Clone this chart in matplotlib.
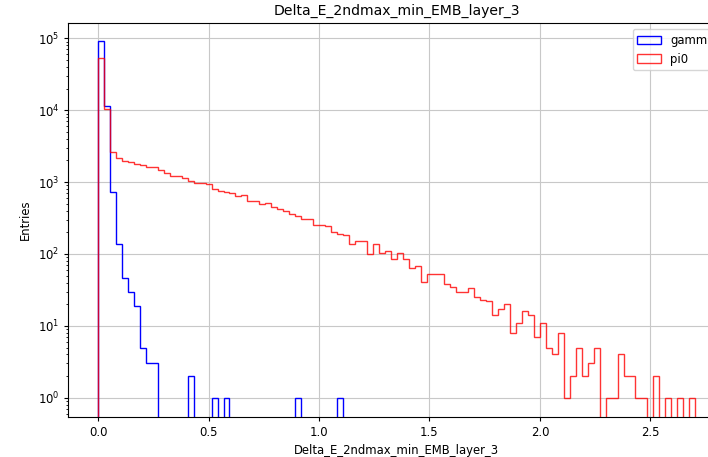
import matplotlib
matplotlib.use("Agg")
import matplotlib.pyplot as plt
import numpy as np

VAR_NAME = "Delta_E_2ndmax_min_EMB_layer_3"
X_MAX = 2.703
N_BINS = 100

# entries per bin (100 equal bins from 0 to X_MAX)
gamma_counts = [0] * N_BINS
for i, c in {0: 91000, 1: 11400, 2: 740, 3: 137, 4: 46, 5: 30, 6: 19, 7: 5,
             8: 3, 9: 3, 15: 2, 19: 1, 21: 1, 33: 1, 40: 1}.items():
    gamma_counts[i] = c

pi0_counts = [
    53500, 10300, 2640, 2160, 1980, 1900, 1780, 1710, 1600, 1600,
    1455, 1350, 1225, 1200, 1137, 1043, 959, 959, 938, 800,
    757, 733, 710, 639, 655, 539, 539, 499, 515, 449,
    421, 392, 363, 342, 306, 306, 255, 255, 242, 200,
    187, 181, 136, 151, 151, 101, 139, 103, 110, 85,
    104, 84, 63, 69, 41, 53, 53, 52, 38, 35,
    30, 30, 34, 25, 23, 22, 14, 17, 20, 8,
    11, 16, 14, 7, 11, 5, 4, 8, 1, 2,
    5, 2, 3, 5, 0, 1, 1, 4, 2, 2,
    1, 1, 0, 2, 0, 1, 0, 1, 0, 1,
]

edges = np.linspace(0, X_MAX, N_BINS + 1)
centers = 0.5 * (edges[:-1] + edges[1:])

# the reference looks like a default figure saved at a lower dpi, so scale text down
plt.rcParams["font.size"] = 8.4
plt.rcParams["axes.titlesize"] = 10.1
plt.rcParams["xtick.major.size"] = 3
plt.rcParams["ytick.major.size"] = 3
plt.rcParams["ytick.minor.size"] = 1.7

fig = plt.figure(figsize=(7.08, 4.57), dpi=100)
# axes runs a bit past the right edge of the picture, like the reference
ax = fig.add_axes([0.0965, 0.0882, 0.9275, 0.8608])

ax.hist(centers, bins=edges, weights=gamma_counts, histtype="step",
        color="blue", label="gamma", log=True)
ax.hist(centers, bins=edges, weights=pi0_counts, histtype="step",
        color="red", alpha=0.8, label="pi0", log=True)

ax.set_xlim(-0.135, 2.838)
ax.set_ylim(0.545, 1.62e5)
ax.grid(True, color="#c8c8c8")
ax.set_title(VAR_NAME)
ax.set_xlabel(VAR_NAME)
ax.set_ylabel("Entries")
ax.legend(loc="upper right")

fig.savefig("out.png", dpi=100)
